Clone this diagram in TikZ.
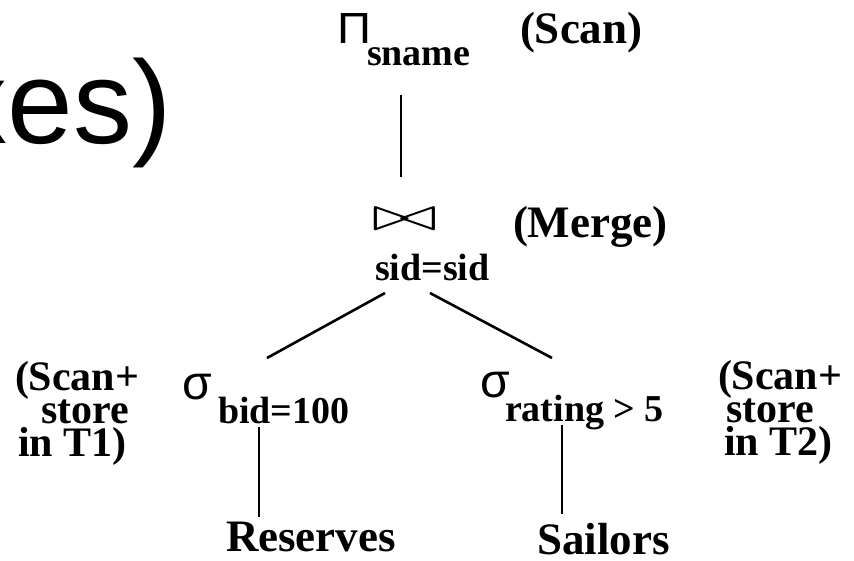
\documentclass[tikz,border=0pt]{standalone}
\usepackage{fontspec}
\usepackage{graphicx}
\setmainfont{Liberation Serif}
\newfontfamily\headfont{Liberation Sans}
\newfontfamily\symfont{Liberation Sans}
\begin{document}
\begin{tikzpicture}[x=1pt,y=-1pt,
  edge/.style={line width=2.6pt},
  lbl/.style={inner sep=0pt,outer sep=0pt,font=\bfseries\fontsize{45}{45}\selectfont,anchor=base west},
  sub/.style={inner sep=0pt,outer sep=0pt,font=\bfseries\fontsize{38}{38}\selectfont,anchor=base west},
  side/.style={inner sep=0pt,outer sep=0pt,font=\bfseries\fontsize{42}{33}\selectfont,anchor=north west,align=left},
  opsym/.style={inner sep=0pt,outer sep=0pt,font=\symfont}]
\useasboundingbox (0,0) rectangle (854,560);

% slide title fragment
\node[inner sep=0pt,anchor=base east,font=\headfont\fontsize{118}{118}\selectfont] (title) at (172,143) {xes)};

% projection
\node[opsym] (pi) at (355,28) {\resizebox{34pt}{30pt}{Π}};
\node[sub] (pisub) at (367,65) {sname};
\node[lbl] (scan) at (520,43) {(Scan)};
\coordinate (piB) at (401,95);

% join
\node[opsym] (join) at (404.5,219) {\resizebox{65pt}{22pt}{$\bowtie$}};
\node[lbl] (merge) at (513,237) {(Merge)};
\node[sub] (joinsub) at (375,280) {sid=sid};
\coordinate (joinT) at (401,177);
\coordinate (joinL) at (385,293);
\coordinate (joinR) at (430,293);

% left selection
\node[opsym,font=\symfont\fontsize{48}{48}\selectfont] (sigL) at (197,387) {σ};
\node[sub] (selL) at (218,423) {bid=100};
\coordinate (selLT) at (267,358);
\coordinate (selLB) at (259,427);
\node[side] (noteL) at (15,361) {(Scan+\\\hspace*{26pt}store\\\hspace*{3pt}in T1)};

% right selection
\node[opsym,font=\symfont\fontsize{48}{48}\selectfont] (sigR) at (495,385) {σ};
\node[sub] (selR) at (505,421) {rating > 5};
\coordinate (selRT) at (552,358);
\coordinate (selRB) at (562,425);
\node[side] (noteR) at (718,360) {(Scan+\\\hspace*{8pt}store\\\hspace*{6pt}in T2)};

% base relations
\node[lbl] (res) at (226,551) {Reserves};
\node[lbl] (sail) at (537,554) {Sailors};
\coordinate (resT) at (259,517);
\coordinate (sailT) at (562,514);

% tree edges
\draw[edge] (piB) -- (joinT);
\draw[edge] (joinL) -- (selLT);
\draw[edge] (joinR) -- (selRT);
\draw[edge] (selLB) -- (resT);
\draw[edge] (selRB) -- (sailT);
\end{tikzpicture}
\end{document}
